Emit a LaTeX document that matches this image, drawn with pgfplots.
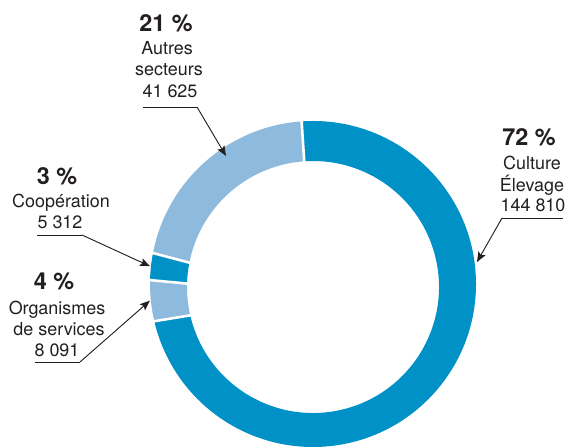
\documentclass[border=0pt]{standalone}
\usepackage{pgfplots}
\pgfplotsset{compat=1.18}
\usepackage{pgfplotstable}
\usepackage{fontspec}
\setmainfont{TeX Gyre Heros}
\usetikzlibrary{calc,arrows.meta}
\definecolor{dblue}{HTML}{0091C7}
\definecolor{lblue}{HTML}{8EBADD}
\definecolor{txt}{HTML}{231F20}
\tikzset{reg/.style={anchor=base, text=txt, font=\fontsize{18}{21}\selectfont},
         bol/.style={anchor=base, text=txt, font=\fontsize{23.5}{27}\selectfont\bfseries},
         und/.style={draw=txt, line width=0.9bp},
         arr/.style={draw=txt, fill=txt, line width=0.9bp, -{Stealth[length=10bp,width=8bp,inset=2bp]}}}

\pgfplotstableread{
sector value
culture 144810
organismes 8091
cooperation 5312
autres 41625
}\donut
\pgfplotstablegetelem{0}{value}\of\donut \edef\vA{\pgfplotsretval}
\pgfplotstablegetelem{1}{value}\of\donut \edef\vB{\pgfplotsretval}
\pgfplotstablegetelem{2}{value}\of\donut \edef\vC{\pgfplotsretval}
\pgfplotstablegetelem{3}{value}\of\donut \edef\vD{\pgfplotsretval}
\edef\T{\fpeval{\vA+\vB+\vC+\vD}}
\def\aA{94}
\edef\aB{\fpeval{round(\aA-360*\vA/\T,3)}}
\edef\aC{\fpeval{round(\aB-360*\vB/\T,3)}}
\edef\aD{\fpeval{round(\aC-360*\vC/\T,3)}}
\edef\aE{\fpeval{round(\aD-360*\vD/\T,3)}}
\edef\mB{\fpeval{round((\aB+\aC)/2,3)}}
\edef\mC{\fpeval{round((\aC+\aD)/2,3)}}

\newcommand\seg[3]{%
\fill[#3] ($(axis cs:313,284)+(#1:163bp)$) arc[start angle=#1, end angle=#2, radius=163bp]
 -- ($(axis cs:313,287)+(#2:126bp)$) arc[start angle=#2, end angle=#1, radius=126bp] -- cycle;}
\newcommand\gap[1]{%
\draw[white, line width=2.6bp] ($(axis cs:313,284)+(#1:166bp)$) -- ($(axis cs:313,287)+(#1:122bp)$);}

\begin{document}
\begin{tikzpicture}
\begin{axis}[
  x=1bp, y=1bp, xmin=0, xmax=569, ymin=0, ymax=447, y dir=reverse,
  hide axis, scale only axis, clip=true,
]
\path (axis cs:0,0) rectangle (axis cs:569,447);
\seg{\aA}{\aB}{dblue}
\seg{\aB}{\aC}{lblue}
\seg{\aC}{\aD}{dblue}
\seg{\aD}{\aE}{lblue}
\gap{\aA}\gap{\aB}\gap{\aC}\gap{\aD}

% 21 %
\node[bol] at (axis cs:166,32) {21 \%};
\node[reg] at (axis cs:167,55) {Autres};
\node[reg] at (axis cs:169,76) {secteurs};
\node[reg] at (axis cs:170,98) {41 625};
\draw[und] (axis cs:143,107) -- (axis cs:197,107);
\draw[arr] (axis cs:197,107) -- (axis cs:226,156);
% 3 %
\node[bol] at (axis cs:57,185) {3 \%};
\node[reg] at (axis cs:61,208) {Coopération};
\node[reg] at (axis cs:60,229) {5 312};
\draw[und] (axis cs:37,235) -- (axis cs:82,235);
\draw[arr] (axis cs:82,235) -- ($(axis cs:313,284)+(\mC:164bp)$);
% 4 %
\node[bol] at (axis cs:54,289) {4 \%};
\node[reg] at (axis cs:57,314) {Organismes};
\node[reg] at (axis cs:59,335) {de services};
\node[reg] at (axis cs:57,356) {8 091};
\draw[und] (axis cs:35,362) -- (axis cs:80,362);
\draw[arr] (axis cs:80,362) -- ($(axis cs:313,284)+(\mB:164bp)$);
% 72 %
\node[bol] at (axis cs:529,146) {72 \%};
\node[reg] at (axis cs:532,170) {Culture};
\node[reg] at (axis cs:532,192) {Élevage};
\node[reg] at (axis cs:533,212) {144 810};
\draw[und] (axis cs:502,218) -- (axis cs:563,218);
\draw[arr] (axis cs:502,218) -- (axis cs:477,262);
\end{axis}
\end{tikzpicture}
\end{document}
